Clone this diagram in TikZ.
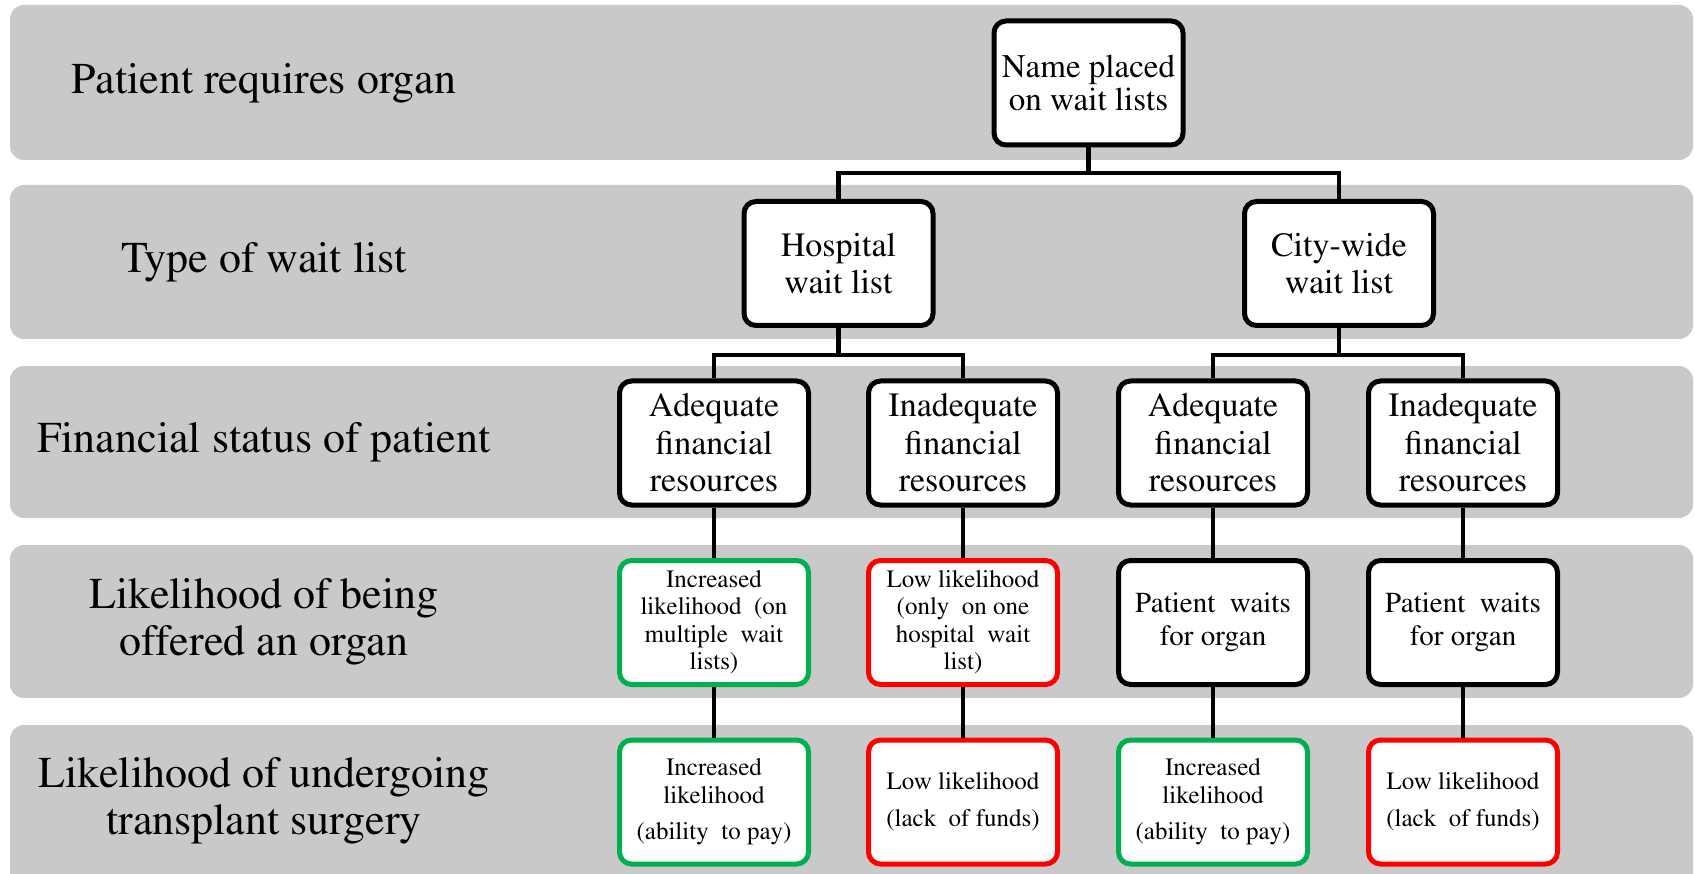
\documentclass[tikz,border=0pt]{standalone}
\usepackage[T1]{fontenc}
\usepackage{mathptmx}
\definecolor{bandgray}{RGB}{201,201,201}
\definecolor{goodgreen}{RGB}{0,176,80}
\definecolor{badred}{RGB}{255,0,0}
\begin{document}
\begin{tikzpicture}[x=1pt,y=-1pt,
  band/.style={fill=bandgray, rounded corners=14pt},
  box/.style={draw=black, line width=5pt, fill=white, rounded corners=12pt,
    minimum width=189pt, minimum height=124pt, align=center, inner sep=0pt},
  goodbox/.style={box, draw=goodgreen},
  badbox/.style={box, draw=badred},
  bigtxt/.style={font=\fontsize{34}{37.5}\selectfont},
  nametxt/.style={font=\fontsize{33}{32.5}\selectfont},
  midtxt/.style={font=\fontsize{29}{33}\selectfont},
  smalltxt/.style={font=\fontsize{25}{27.5}\selectfont},
  conn/.style={line width=4.5pt, draw=black},
  lab/.style={align=center, font=\fontsize{44}{47}\selectfont}
]
\useasboundingbox (0,0) rectangle (1695,874);
\fill[white] (0,0) rectangle (1695,874);
\begin{scope}
\clip (0,0) rectangle (1695,874);
\fill[band] (10,5) rectangle (1693,160);
\fill[band] (10,185) rectangle (1693,339);
\fill[band] (10,366) rectangle (1693,518);
\fill[band] (10,545) rectangle (1693,698);
\fill[band] (10,725) rectangle (1693,900);
\end{scope}

% row labels
\node[lab] (r1) at (264,83) {Patient requires organ};
\node[lab] (r2) at (264,262) {Type of wait list};
\node[lab] (r3) at (264,442) {Financial status of patient};
\node[lab] (r4) at (264,622) {Likelihood of being\\offered an organ};
\node[lab] (r5) at (264,801) {Likelihood of undergoing\\transplant surgery};

% boxes
\node[box, nametxt] (name) at (1088.5,83) {Name placed\\on wait lists};
\node[box, bigtxt] (hosp) at (838.5,263.5) {Hospital\\wait list};
\node[box, bigtxt] (city) at (1339,263.5) {City-wide\\wait list};

\node[box, bigtxt] (ha) at (714,443) {Adequate\\financial\\resources};
\node[box, bigtxt] (hi) at (963,443) {Inadequate\\financial\\resources};
\node[box, bigtxt] (ca) at (1213,443) {Adequate\\financial\\resources};
\node[box, bigtxt] (ci) at (1463,443) {Inadequate\\financial\\resources};

\node[goodbox, smalltxt] (hao) at (714,622.5) {Increased\\likelihood\ \ (on\\multiple\ \ wait\\lists)};
\node[badbox, smalltxt] (hio) at (963,622.5) {Low likelihood\\(only\ \ on one\\hospital\ \ wait\\list)};
\node[box, midtxt] (cao) at (1213,622.5) {Patient\ \ waits\\for organ};
\node[box, midtxt] (cio) at (1463,622.5) {Patient\ \ waits\\for organ};

\node[goodbox, smalltxt] (has) at (714,802) {Increased\\likelihood\\[9pt](ability\ \ to pay)};
\node[badbox, smalltxt] (his) at (963,802) {Low likelihood\\[10pt](lack\ \ of funds)};
\node[goodbox, smalltxt] (cas) at (1213,802) {Increased\\likelihood\\[9pt](ability\ \ to pay)};
\node[badbox, smalltxt] (cis) at (1463,802) {Low likelihood\\[10pt](lack\ \ of funds)};

% connectors
\draw[conn] (name.south) -- (name.south |- 0,173) -| (hosp.north);
\draw[conn] (name.south |- 0,173) -| (city.north);
\draw[conn] (hosp.south) -- (hosp.south |- 0,355) -| (ha.north);
\draw[conn] (hosp.south |- 0,355) -| (hi.north);
\draw[conn] (city.south) -- (city.south |- 0,355) -| (ca.north);
\draw[conn] (city.south |- 0,355) -| (ci.north);
\draw[conn] (ha.south) -- (hao.north);
\draw[conn] (hi.south) -- (hio.north);
\draw[conn] (ca.south) -- (cao.north);
\draw[conn] (ci.south) -- (cio.north);
\draw[conn] (hao.south) -- (has.north);
\draw[conn] (hio.south) -- (his.north);
\draw[conn] (cao.south) -- (cas.north);
\draw[conn] (cio.south) -- (cis.north);
\end{tikzpicture}
\end{document}
